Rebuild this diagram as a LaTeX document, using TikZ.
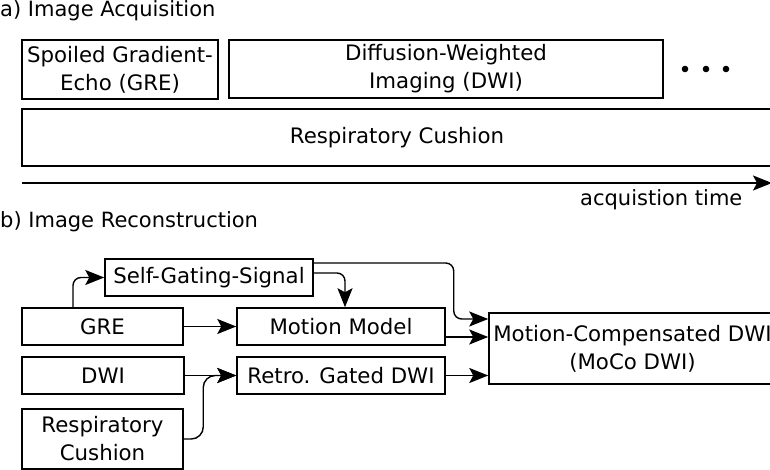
\documentclass[tikz,border=0pt]{standalone}
\usepackage{fontspec}
\setmainfont{DejaVu Sans}
\usetikzlibrary{arrows.meta,calc}
\begin{document}
\begin{tikzpicture}[x=1pt,y=-1pt,
  box/.style={draw, line width=1.5pt, inner sep=0pt, align=center, font=\fontsize{21.3}{28}\selectfont},
  lbl/.style={inner sep=0pt, font=\fontsize{21}{24}\selectfont},
  arr/.style={line width=1.4pt, -{Stealth[length=19pt,width=15pt,inset=4pt]}}]
\useasboundingbox (0,0) rectangle (770,470);
% a) acquisition
\node[lbl, anchor=base west] (ta) at (0,17) {a) Image Acquisition};
\node[box, minimum width=196pt, minimum height=59pt] (gre1) at (120,69.5) {Spoiled Gradient-\\Echo (GRE)};
\node[box, minimum width=434pt, minimum height=58pt] (dwi1) at (446,69) {Diffusion-Weighted\\Imaging (DWI)};
\fill (685,69) circle (3.3) (706,69) circle (3.3) (726,69) circle (3.3);
\node[box, minimum width=750pt, minimum height=57pt] (resp1) at (397,137.5) {Respiratory Cushion};
\coordinate (t0) at (22,183);
\coordinate (t1) at (772,183);
\draw[arr] (t0) -- (t1);
\node[lbl, anchor=base west] (tt) at (580,206) {acquistion time};
% b) reconstruction
\node[lbl, anchor=base west] (tb) at (0,228) {b) Image Reconstruction};
\node[box, minimum width=208pt, minimum height=37pt] (sgs) at (209,277.5) {Self-Gating-Signal};
\node[box, minimum width=161pt, minimum height=37pt] (gre2) at (102.5,326.5) {GRE};
\node[box, minimum width=162pt, minimum height=37pt] (dwi2) at (103,375.5) {DWI};
\node[box, minimum width=161pt, minimum height=60pt] (resp2) at (102.5,439) {Respiratory\\Cushion};
\node[box, minimum width=208pt, minimum height=37pt] (mm) at (341,326.5) {Motion Model};
\node[box, minimum width=208pt, minimum height=37pt] (retro) at (341,375.5) {Retro. Gated DWI};
\node[box, minimum width=287pt, minimum height=71pt] (moco) at (632.5,348.5) {Motion-Compensated DWI\\(MoCo DWI)};
% connectors
\draw[arr, rounded corners=8pt] ([xshift=-29.5pt]gre2.north) |- (sgs.west);
\draw[arr, rounded corners=8pt] ([yshift=4.5pt]sgs.east) -| ([xshift=4pt]mm.north);
\draw[arr, rounded corners=8pt] ([yshift=14.5pt]sgs.east) -- ++(140,0) |- ([yshift=29.5pt]moco.west);
\draw[arr] (gre2) -- (mm);
\draw[arr] ([yshift=-10.5pt]mm.east) -- ([yshift=-10.5pt]mm.east -| moco.west);
\draw[arr] (retro.east) -- (retro.east -| moco.west);
\draw[arr] (dwi2) -- (retro);
\draw[arr, rounded corners=12pt] (resp2.east) -| ([xshift=-33pt]retro.west) -- (retro.west);
\end{tikzpicture}
\end{document}
